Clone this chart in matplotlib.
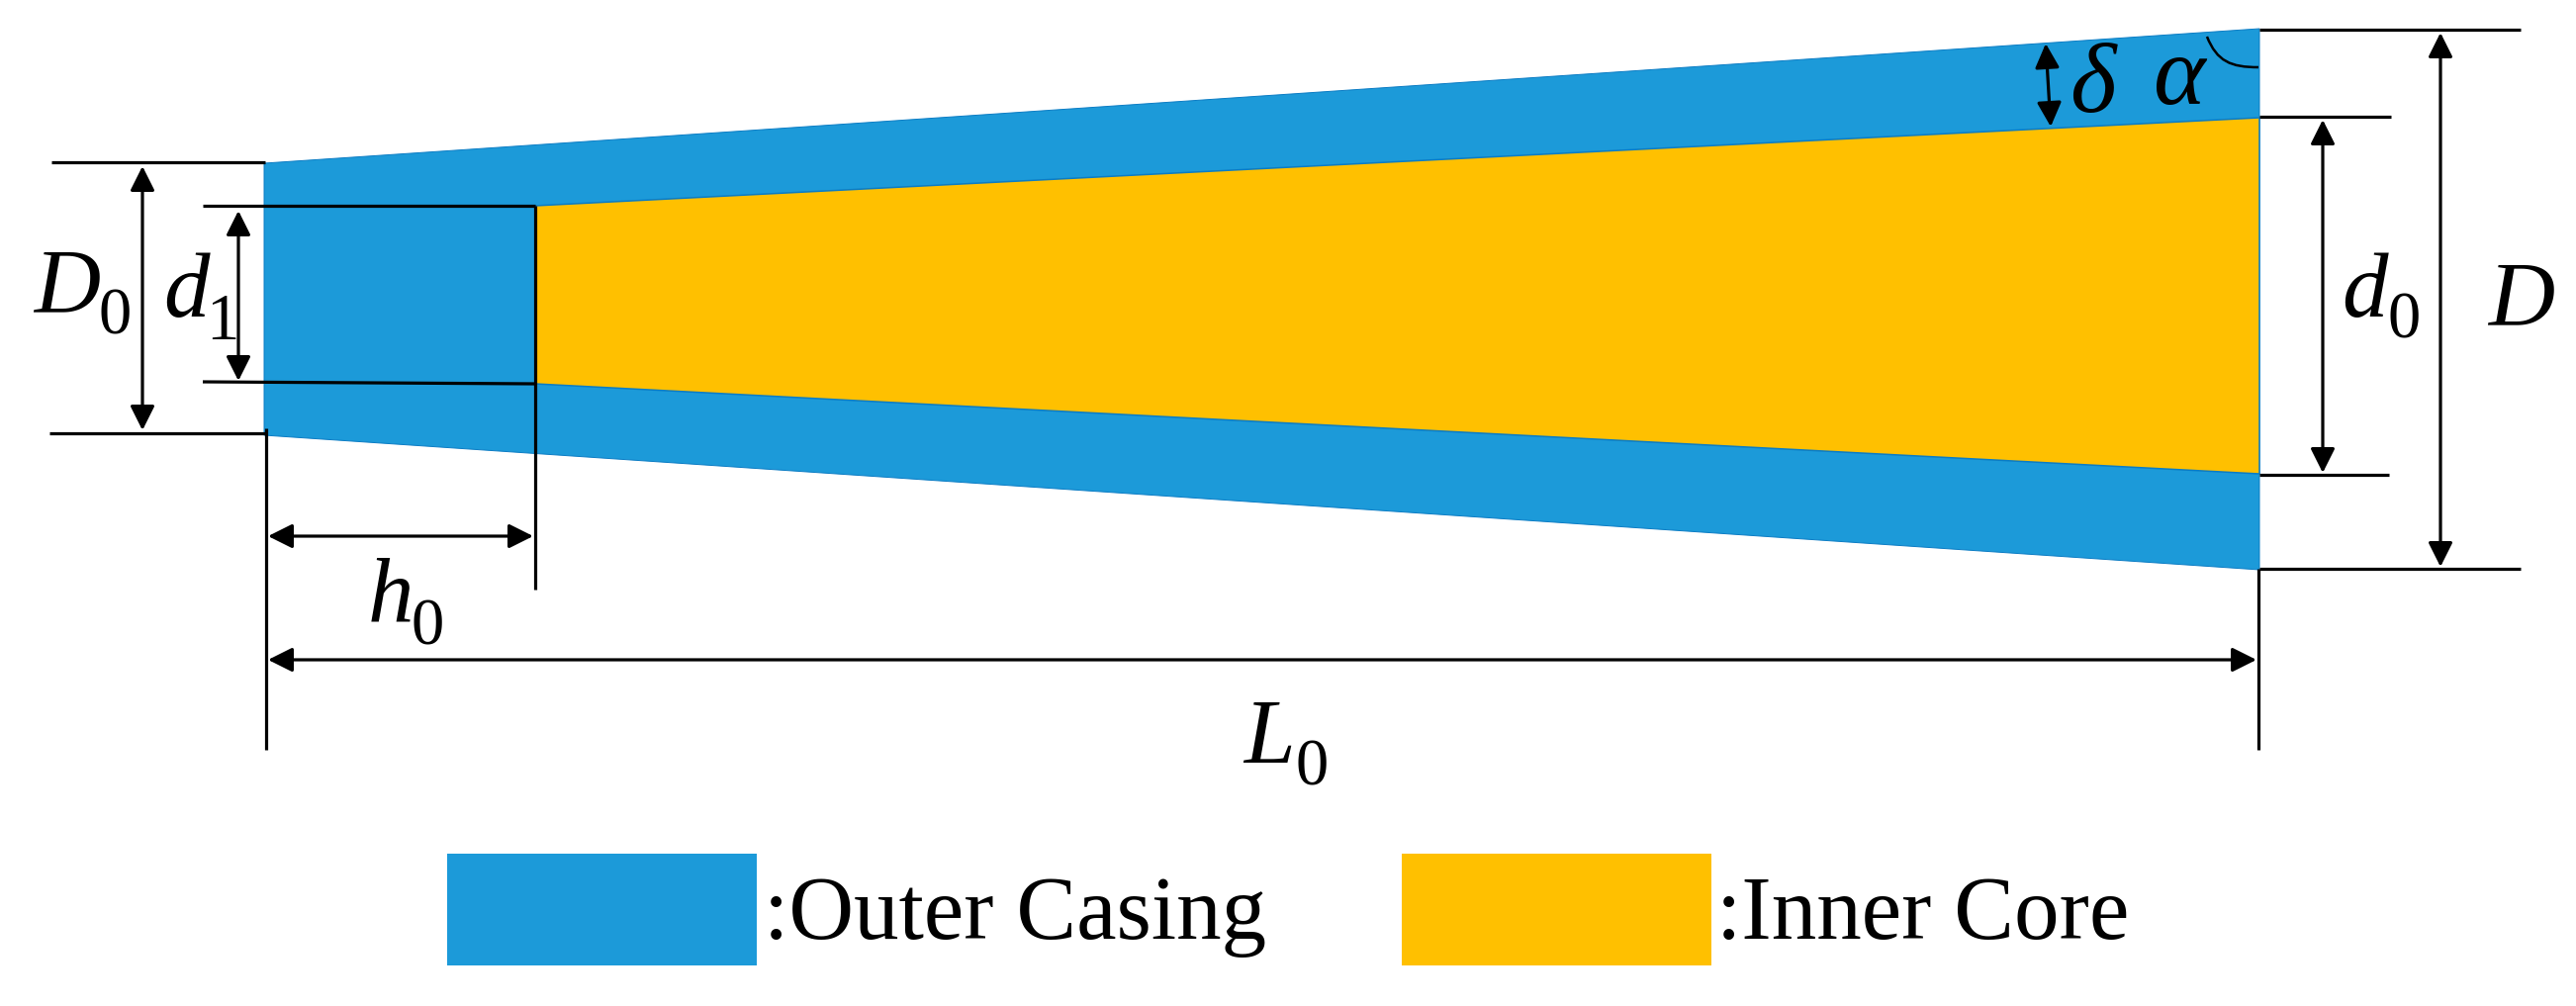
import matplotlib
matplotlib.use('Agg')
import matplotlib.pyplot as plt
from matplotlib.patches import Polygon, Rectangle, PathPatch
from matplotlib.path import Path

# everything in pixels, y going down
WIDTH, HEIGHT = 2604, 1017
BLUE = '#1C9AD9'
YELLOW = '#FFC000'
EDGE = '#0B7CC4'

outer_x = [267, 2284, 2284, 267]
outer_y = [165, 29, 576, 440]
core_x = [541, 2284, 2284, 541]
core_y = [208, 119, 479, 388]

# extension lines: x0, x1, y0, y1
ext_lines = [
    (52, 268, 164, 164),
    (50, 269, 438, 438),
    (205, 541, 208, 208),
    (205, 541, 386, 388),
    (269, 269, 433, 758),
    (541, 541, 208, 596),
    (2283, 2283, 575, 758),
    (2284, 2548, 30, 30),
    (2284, 2417, 118, 118),
    (2284, 2415, 480, 480),
    (2284, 2548, 575, 575),
]

# double arrows: x0, y0, x1, y1
dim_arrows = [
    (144, 168, 144, 435),
    (241, 213, 241, 385),
    (271, 542, 539, 542),
    (271, 667, 2281, 667),
    (2348, 121, 2348, 478),
    (2467, 33, 2467, 573),
]
delta_arrow = (2068, 44, 2073, 128)

# italic symbols and upright subscripts: text, x, baseline
symbols = [('D', 34, 315), ('d', 165, 320), ('h', 372, 628), ('L', 1257, 771),
           ('d', 2367, 320), ('D', 2515, 328)]
subscripts = [('0', 100, 338), ('1', 208, 343), ('0', 416, 652), ('0', 1309, 793),
              ('0', 2413, 342)]
greek = [('δ', 2092, 113), ('α', 2176, 105)]

alpha_arc = [(2231, 37), (2241, 62), (2255, 68), (2283, 68)]

legend_labels = [':Outer Casing', ':Inner Core']
legend_colors = [BLUE, YELLOW]
legend_x = [452, 1417]
legend_text_x = [772, 1735]

plt.rcParams['font.family'] = ['Liberation Serif', 'DejaVu Serif']

fig = plt.figure(figsize=(WIDTH / 100, HEIGHT / 100), dpi=100)
ax = fig.add_axes([0, 0, 1, 1])
ax.set_xlim(0, WIDTH)
ax.set_ylim(HEIGHT, 0)
ax.axis('off')

ax.add_patch(Polygon(list(zip(outer_x, outer_y)), closed=True, facecolor=BLUE, edgecolor=EDGE, lw=0.7))
ax.add_patch(Polygon(list(zip(core_x, core_y)), closed=True, facecolor=YELLOW, edgecolor=EDGE, lw=1.1))

for x0, x1, y0, y1 in ext_lines:
    ax.plot([x0, x1], [y0, y1], color='black', lw=2.3, solid_capstyle='butt')

arrow_style = '<|-|>,head_length=15,head_width=7.5'
for x0, y0, x1, y1 in dim_arrows + [delta_arrow]:
    ax.annotate('', xy=(x1, y1), xytext=(x0, y0),
                arrowprops=dict(arrowstyle=arrow_style, mutation_scale=1, color='black',
                                lw=2.3, shrinkA=0, shrinkB=0))

codes = [Path.MOVETO, Path.CURVE4, Path.CURVE4, Path.CURVE4]
ax.add_patch(PathPatch(Path(alpha_arc, codes), facecolor='none', edgecolor='black', lw=1.8))

for s, x, y in symbols:
    ax.text(x, y, s, fontsize=67, style='italic', ha='left', va='baseline')
for s, x, y in subscripts:
    ax.text(x, y, s, fontsize=48, ha='left', va='baseline')
for s, x, y in greek:
    ax.text(x, y, s, fontsize=72, style='italic', ha='left', va='baseline')

for label, color, x, tx in zip(legend_labels, legend_colors, legend_x, legend_text_x):
    ax.add_patch(Rectangle((x, 863), 313, 113, facecolor=color, edgecolor='none'))
    ax.text(tx, 949, label, fontsize=65.5, ha='left', va='baseline')

fig.savefig('out.png', dpi=100, facecolor='white')
